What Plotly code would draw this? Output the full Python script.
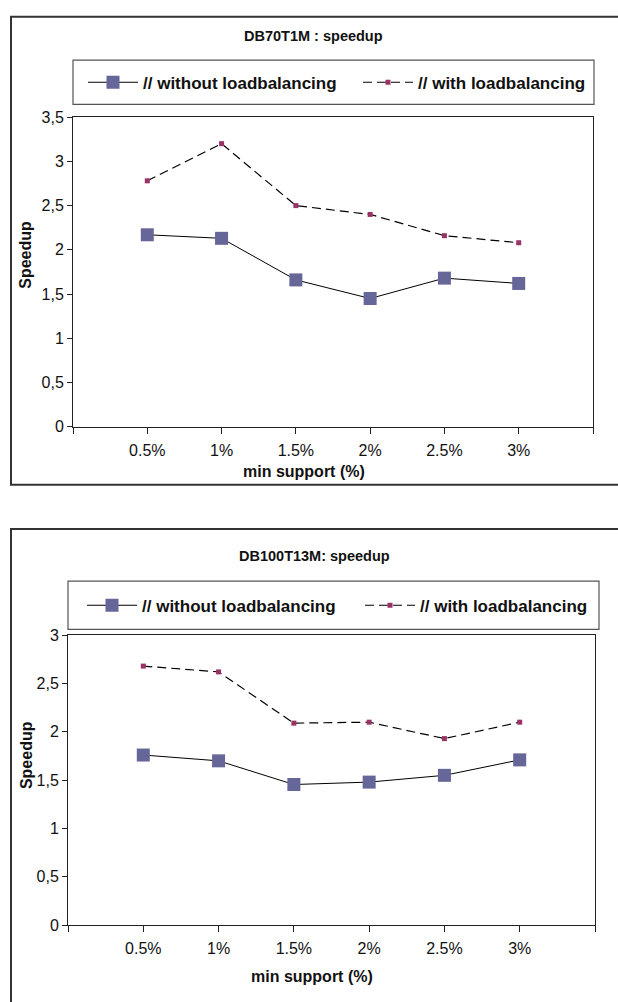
import plotly.graph_objects as go

W, H = 618, 1002

# ---------------- data ----------------
categories = ["0.5%", "1%", "1.5%", "2%", "2.5%", "3%"]
series_names = ["// without loadbalancing", "// with loadbalancing"]

top_title = "DB70T1M : speedup"
top_without = [2.17, 2.13, 1.66, 1.45, 1.68, 1.62]
top_with = [2.78, 3.20, 2.50, 2.40, 2.16, 2.08]
top_yticks = [0, 0.5, 1, 1.5, 2, 2.5, 3, 3.5]
top_yticktext = ["0", "0,5", "1", "1,5", "2", "2,5", "3", "3,5"]

bot_title = "DB100T13M: speedup"
bot_without = [1.76, 1.70, 1.455, 1.48, 1.55, 1.71]
bot_with = [2.68, 2.62, 2.09, 2.10, 1.93, 2.10]
bot_yticks = [0, 0.5, 1, 1.5, 2, 2.5, 3]
bot_yticktext = ["0", "0,5", "1", "1,5", "2", "2,5", "3"]

y_title = "Speedup"
x_title = "min support (%)"

# ---------------- helpers ----------------
def px(x):
    return x / W

def py(y):
    return (H - y) / H

FONT = "Liberation Sans, Arial, Helvetica, sans-serif"
C_WITHOUT = "#666699"
C_WITH = "#993366"

xpos = list(range(1, len(categories) + 1))
xtickvals = list(range(0, len(categories) + 2))
xticktext = [""] + categories + [""]

fig = go.Figure()

def add_series(xa, ya, without, with_, leg1, leg2):
    fig.add_trace(go.Scatter(
        x=xpos, y=without, name=series_names[0], mode="lines+markers",
        line=dict(color="black", width=1),
        marker=dict(symbol="square", size=13, color=C_WITHOUT),
        xaxis=xa, yaxis=ya, legend=leg1, cliponaxis=False))
    fig.add_trace(go.Scatter(
        x=xpos, y=with_, name=series_names[1], mode="lines+markers",
        line=dict(color="black", width=1.2, dash="9px,5px"),
        marker=dict(symbol="square", size=5, color=C_WITH),
        xaxis=xa, yaxis=ya, legend=leg2, cliponaxis=False))

add_series("x", "y", top_without, top_with, "legend", "legend2")
add_series("x2", "y2", bot_without, bot_with, "legend3", "legend4")

axis_common = dict(showline=True, linecolor="#222", linewidth=1, mirror=True,
                   showgrid=False, zeroline=False, ticks="outside",
                   tickcolor="#222", tickfont=dict(family=FONT, size=16, color="#111"))

fig.update_layout(
    width=W, height=H, margin=dict(l=0, r=0, t=0, b=0),
    paper_bgcolor="white", plot_bgcolor="white",
    showlegend=True,
    xaxis=dict(domain=[px(73), px(593)], range=[0, 7], tickvals=xtickvals,
               ticktext=xticktext, ticklen=6, ticklabelstandoff=3, anchor="y", **axis_common),
    yaxis=dict(domain=[py(426), py(111)], range=[0, 3.5], tickvals=top_yticks,
               ticktext=top_yticktext, ticklen=5, anchor="x", **axis_common),
    xaxis2=dict(domain=[px(68), px(595)], range=[0, 7], tickvals=xtickvals,
                ticktext=xticktext, ticklen=6, ticklabelstandoff=3, anchor="y2", **axis_common),
    yaxis2=dict(domain=[py(933), py(638)], range=[0, 3], tickvals=bot_yticks,
                ticktext=bot_yticktext, ticklen=5, anchor="x2", **axis_common),
)

leg_common = dict(orientation="h", xanchor="left", yanchor="middle",
                  bgcolor="rgba(0,0,0,0)", borderwidth=0, itemwidth=50,
                  font=dict(family=FONT, size=17, color="#111", weight="bold"),
                  itemclick=False, itemdoubleclick=False)
fig.update_layout(
    legend=dict(x=px(83), y=py(76), **leg_common),
    legend2=dict(x=px(358), y=py(76), **leg_common),
    legend3=dict(x=px(82), y=py(608), **leg_common),
    legend4=dict(x=px(360), y=py(608), **leg_common),
)

shapes = []
def rect(x0, y0, x1, y1, color, width):
    shapes.append(dict(type="rect", xref="paper", yref="paper",
                       x0=px(x0), x1=px(x1), y0=py(y1), y1=py(y0),
                       line=dict(color=color, width=width), fillcolor="rgba(0,0,0,0)"))

rect(11, 9, 660, 485, "#333", 2)
rect(11, 530, 660, 1060, "#333", 2)
rect(73, 53, 594, 98, "#555", 1.2)
rect(68, 583, 599, 632, "#555", 1.2)
fig.update_layout(shapes=shapes)

anns = []
def text(x, y, s, size=16, bold=True, angle=0):
    anns.append(dict(xref="paper", yref="paper", x=px(x), y=py(y), text=f"<b>{s}</b>" if bold else s,
                     showarrow=False, xanchor="center", yanchor="middle", textangle=angle,
                     font=dict(family=FONT, size=size, color="#111")))

text(313, 28, top_title, size=14.5)
text(314, 557, bot_title, size=14.5)
text(26, 251, y_title, angle=-90)
text(26, 760, y_title, angle=-90)
text(304, 472, x_title)
text(312, 985, x_title)
fig.update_layout(annotations=anns)

fig.write_html("out.html")
